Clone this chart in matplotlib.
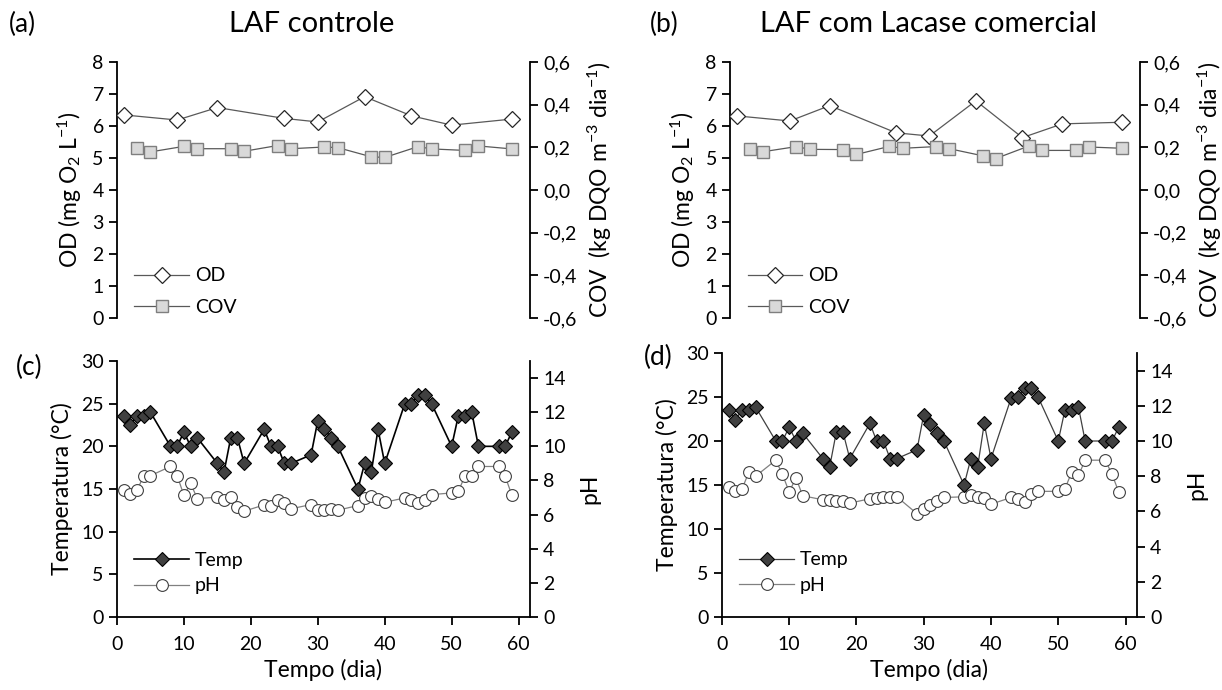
import matplotlib
matplotlib.use('Agg')
import matplotlib.pyplot as plt
from matplotlib.ticker import FuncFormatter, MultipleLocator

plt.rcParams['font.family'] = ['Lato', 'DejaVu Sans']
plt.rcParams['mathtext.fontset'] = 'custom'
plt.rcParams['mathtext.rm'] = 'Lato'
plt.rcParams['mathtext.it'] = 'Lato:italic'
plt.rcParams['axes.unicode_minus'] = False

# dias de amostragem
dias_od = [1, 9, 15, 25, 30, 37, 44, 50, 59]
dias_cov = [3, 5, 10, 12, 17, 19, 24, 26, 31, 33, 38, 40, 45, 47, 52, 54, 59]
dias = [1, 2, 3, 4, 5, 8, 9, 10, 11, 12, 15, 16, 17, 18, 19, 22, 23, 24, 25, 26,
        29, 30, 31, 32, 33, 36, 37, 38, 39, 40, 43, 44, 45, 46, 47, 50, 51, 52, 53, 54,
        57, 58, 59]

# (a) LAF controle
od_a = [6.35, 6.19, 6.58, 6.24, 6.13, 6.92, 6.32, 6.03, 6.22]
cov_a = [0.196, 0.179, 0.205, 0.194, 0.194, 0.182, 0.209, 0.194, 0.202, 0.199,
         0.156, 0.153, 0.204, 0.193, 0.186, 0.207, 0.193]
# (b) LAF com Lacase comercial
od_b = [6.32, 6.16, 6.64, 5.79, 5.69, 6.79, 5.64, 6.07, 6.12]
cov_b = [0.194, 0.180, 0.204, 0.191, 0.190, 0.167, 0.205, 0.196, 0.204, 0.194,
         0.161, 0.148, 0.207, 0.186, 0.186, 0.202, 0.196]

# (c) temperatura e pH - controle
temp_c = [23.5, 22.5, 23.6, 23.6, 24.0, 20, 20, 21.7, 20, 21,
          18, 17, 21, 21, 18, 22, 20, 20, 18, 18,
          19, 23, 22, 21, 20, 15, 18, 17, 22, 18,
          25, 25, 26, 26, 25, 20, 23.6, 23.6, 24, 20,
          20, 20, 21.7]
ph_c = [7.42, 7.23, 7.42, 8.28, 8.28, 8.82, 8.28, 7.13, 7.83, 6.94,
        7.02, 6.88, 7.02, 6.43, 6.20, 6.57, 6.49, 6.88, 6.69, 6.34,
        6.59, 6.26, 6.26, 6.30, 6.26, 6.53, 6.98, 7.11, 6.92, 6.72,
        6.98, 6.88, 6.69, 6.88, 7.17, 7.27, 7.36, 8.28, 8.28, 8.82,
        8.82, 8.24, 7.13]
# (d) temperatura e pH - lacase
temp_d = [23.5, 22.4, 23.55, 23.55, 23.86, 20, 20, 21.6, 20, 20.9,
          18, 17, 21, 21, 18, 22, 20, 20, 18, 18,
          19, 23, 21.9, 20.9, 20, 15, 18, 17, 22, 18,
          24.9, 25, 26, 26, 25, 20, 23.55, 23.55, 23.86, 20,
          20, 20, 21.6]
ph_d = [7.41, 7.18, 7.29, 8.23, 8.0, 8.91, 8.10, 7.10, 7.91, 6.89,
        6.66, 6.66, 6.60, 6.60, 6.47, 6.72, 6.76, 6.79, 6.83, 6.83,
        5.87, 6.14, 6.35, 6.60, 6.79, 6.83, 6.95, 6.83, 6.76, 6.41,
        6.79, 6.72, 6.56, 6.99, 7.14, 7.14, 7.29, 8.23, 8.04, 8.91,
        8.91, 8.10, 7.10]

XMAX = 61.7
TICK_FS = 14
LABEL_FS = 16.5


def style_axis(ax, spines):
    for s in ['top', 'bottom', 'left', 'right']:
        ax.spines[s].set_visible(s in spines)
        ax.spines[s].set_linewidth(1.3)
    ax.tick_params(direction='out', length=6, width=1.3, labelsize=TICK_FS)


def od_cov_panel(rect, od, cov):
    """painel superior: OD (eixo esquerdo) e COV (eixo direito)"""
    ax = fig.add_axes(rect)
    ax2 = ax.twinx()
    l1, = ax.plot(dias_od, od, color='#595959', lw=0.9, marker='D', ms=8,
                  mfc='white', mec='#262626', mew=0.9, label='OD', zorder=3)
    l2, = ax2.plot(dias_cov, cov, color='#595959', lw=0.9, marker='s', ms=8,
                   mfc='#d9d9d9', mec='#7f7f7f', mew=1.0, label='COV')
    ax.set_xlim(0, XMAX)
    ax.set_ylim(0, 8)
    ax.yaxis.set_major_locator(MultipleLocator(1))
    ax2.set_ylim(-0.6, 0.6)
    ax2.yaxis.set_major_locator(MultipleLocator(0.2))
    ax2.yaxis.set_major_formatter(FuncFormatter(lambda v, p: f'{v:.1f}'.replace('.', ',')))
    ax.set_xticks([])
    style_axis(ax, ['left'])
    style_axis(ax2, ['right'])
    ax.set_ylabel(r'OD (mg O$_2$ L$^{-1}$)', fontsize=LABEL_FS, labelpad=6)
    ax2.set_ylabel(r'COV  (kg DQO m$^{-3}$ dia$^{-1}$)', fontsize=LABEL_FS, labelpad=6)
    ax.legend([l1, l2], ['OD', 'COV'], loc='lower left', bbox_to_anchor=(0.0, -0.06),
              frameon=False, fontsize=TICK_FS, handlelength=2.8, handletextpad=0.3,
              labelspacing=0.75)
    return ax


def temp_ph_panel(rect, temp, ph, temp_lw, temp_color):
    """painel inferior: temperatura (eixo esquerdo) e pH (eixo direito)"""
    ax = fig.add_axes(rect)
    ax2 = ax.twinx()
    l1, = ax.plot(dias, temp, color=temp_color, lw=temp_lw, marker='D', ms=7.5,
                  mfc='#404040', mec='black', mew=0.8, label='Temp', zorder=3)
    l2, = ax2.plot(dias, ph, color='#808080', lw=0.9, marker='o', ms=8.5,
                   mfc='white', mec='#404040', mew=0.8, label='pH')
    ax.set_zorder(ax2.get_zorder() + 1)
    ax.patch.set_visible(False)
    ax.set_xlim(0, XMAX)
    ax.set_xticks(range(0, 61, 10))
    ax.set_ylim(0, 30)
    ax.yaxis.set_major_locator(MultipleLocator(5))
    ax2.set_ylim(0, 15)
    ax2.set_yticks(range(0, 15, 2))
    style_axis(ax, ['left', 'bottom'])
    style_axis(ax2, ['right'])
    ax.tick_params(axis='x', pad=8)
    ax.set_ylabel('Temperatura (°C)', fontsize=LABEL_FS, labelpad=6)
    ax2.set_ylabel('pH', fontsize=LABEL_FS, labelpad=10)
    ax.set_xlabel('Tempo (dia)', fontsize=LABEL_FS, labelpad=4)
    ax.legend([l1, l2], ['Temp', 'pH'], loc='lower left', bbox_to_anchor=(0.0, 0.02),
              frameon=False, fontsize=TICK_FS, handlelength=2.8, handletextpad=0.3,
              labelspacing=0.45)
    return ax


fig = plt.figure(figsize=(12.22, 6.90), dpi=100)

od_cov_panel([0.0957, 0.539, 0.338, 0.371], od_a, cov_a)
od_cov_panel([0.5974, 0.539, 0.3355, 0.371], od_b, cov_b)
temp_ph_panel([0.0957, 0.1058, 0.338, 0.371], temp_c, ph_c, 1.2, 'black')
temp_ph_panel([0.5908, 0.1058, 0.3396, 0.3826], temp_d, ph_d, 0.9, '#404040')

fig.text(0.255, 0.965, 'LAF controle', ha='center', va='center', fontsize=21)
fig.text(0.760, 0.965, 'LAF com Lacase comercial', ha='center', va='center', fontsize=21)
fig.text(0.007, 0.965, '(a)', ha='left', va='center', fontsize=19)
fig.text(0.532, 0.965, '(b)', ha='left', va='center', fontsize=19)
fig.text(0.013, 0.468, '(c)', ha='left', va='center', fontsize=19)
fig.text(0.527, 0.482, '(d)', ha='left', va='center', fontsize=19)

fig.savefig('out.png', dpi=100)
plt.close(fig)
